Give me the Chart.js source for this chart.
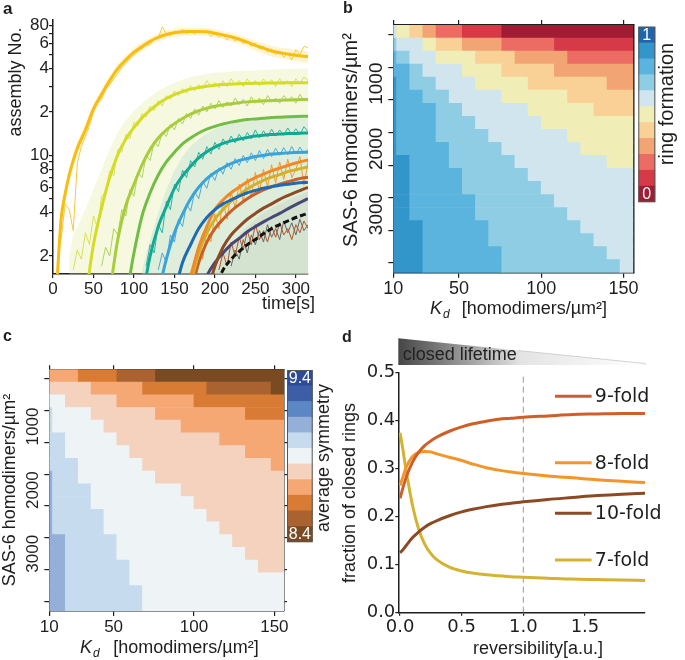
<!DOCTYPE html>
<html>
<head>
<meta charset="utf-8">
<title>SAS-6 ring assembly</title>
<script src="https://cdn.jsdelivr.net/npm/chart.js@4.4.1/dist/chart.umd.min.js"></script>
<style>
  body { margin: 0; background: #fff; }
  #fig { position: relative; width: 685px; height: 660px; overflow: hidden; }
  #fig canvas { position: absolute; }
</style>
</head>
<body>
<div id="fig">
  <canvas id="panelA" width="340" height="320" style="left:0;top:0"></canvas>
  <canvas id="panelB" width="345" height="320" style="left:340px;top:0"></canvas>
  <canvas id="panelC" width="340" height="340" style="left:0;top:320px"></canvas>
  <canvas id="panelD" width="345" height="340" style="left:340px;top:320px"></canvas>
</div>
<script>
const SANS = '"Liberation Sans", Arial, Helvetica, sans-serif';
const WIDE = '"DejaVu Sans", Verdana, sans-serif';
const INK = '#1e1e1e';

Chart.defaults.font.family = SANS;
Chart.defaults.color = INK;
Chart.defaults.animation = false;
Chart.defaults.plugins.legend.display = false;
Chart.defaults.plugins.tooltip.enabled = false;
Chart.defaults.elements.point.radius = 0;

// ---------- panel a : assembly number vs time ----------
const timeTicks = [0, 50, 100, 150, 200, 250, 300];
const countTicks = [2, 3, 4, 5, 6, 7, 8, 9, 10, 20, 30, 40, 50, 60, 70, 80];
const countLabels = ['2', '', '4', '', '6', '', '8', '', '10', '2', '', '4', '', '6', '', '80'];

const fitTimes = [5, 10, 15, 20, 25, 30, 40, 50, 60, 70, 80, 90, 100, 110, 120, 130, 140, 150, 160,
  170, 180, 190, 200, 210, 220, 230, 240, 250, 260, 270, 280, 290, 300, 315];
const fit1 = [1.35, 3.6, 5.4, 7.3, 9.2, 11.2, 15, 21, 26.5, 33, 40, 46, 52, 57, 62, 66, 69, 71, 72, 72.5,
  72.5, 72, 70.5, 68.5, 66.5, 64, 61, 58, 55.5, 53, 51.5, 50.5, 49.5, 48.5];
const fit2 = [1.0, 2.4, 4.3, 7.0, 10.1, 13.0, 15.6, 18.2, 20.6, 22.8, 24.8, 26.4, 27.7, 28.8, 29.6, 30.2,
  30.7, 31.0, 31.2, 31.4, 31.5, 31.6, 31.7, 31.8, 31.8, 31.9, 31.9, 31.9];
const fit3 = [1.1, 2.6, 4.5, 6.3, 8.6, 11.0, 13.2, 15.0, 16.6, 18.0, 19.3, 20.4, 21.2, 21.9, 22.4, 22.8,
  23.2, 23.5, 23.7, 23.9, 24.0, 24.1, 24.2, 24.3, 24.4];
const fit4 = [1.0, 2.1, 3.8, 5.5, 7.3, 9.0, 10.5, 12.0, 13.2, 14.3, 15.2, 15.9, 16.5, 17.0, 17.4, 17.7,
  17.9, 18.1, 18.3, 18.4, 18.5, 18.6, 18.7];
const fit5 = [1.0, 2.0, 3.2, 4.4, 5.9, 7.2, 8.4, 9.6, 10.6, 11.4, 12.1, 12.6, 13.0, 13.3, 13.6, 13.8,
  13.95, 14.05, 14.15, 14.2, 14.3];
const fit6 = [1.1, 1.9, 2.9, 3.9, 5.0, 6.0, 6.9, 7.6, 8.2, 8.75, 9.2, 9.5, 9.8, 10.0, 10.2, 10.3, 10.4,
  10.45, 10.5];
const fit7 = [1.1, 1.8, 2.4, 3.1, 3.7, 4.2, 4.6, 4.9, 5.2, 5.5, 5.7, 5.9, 6.05, 6.2, 6.3, 6.4, 6.5];
const fit8 = [1.0, 1.45, 2.3, 3.2, 4.2, 4.9, 5.5, 6.0, 6.55, 7.0, 7.4, 7.8, 8.15, 8.5, 8.85, 9.3];
const fit9 = [1.0, 1.3, 2.1, 2.9, 3.6, 4.2, 4.8, 5.3, 5.85, 6.3, 6.7, 7.05, 7.35, 7.7, 7.95, 8.3];
const fit10 = [0.8, 1.1, 1.8, 2.5, 3.1, 3.6, 4.1, 4.55, 5.0, 5.4, 5.75, 6.05, 6.3, 6.55, 6.8, 7.06];
const fit11 = [0.9, 1.1, 1.7, 2.3, 2.8, 3.2, 3.6, 3.95, 4.3, 4.6, 4.95, 5.25, 5.55, 6.0];
const fit12 = [1.0, 1.45, 1.8, 2.1, 2.4, 2.65, 2.95, 3.2, 3.45, 3.7, 3.95, 4.25, 4.55, 5.0];
const fit13 = [0.9, 1.2, 1.6, 1.9, 2.15, 2.4, 2.6, 2.85, 3.1, 3.3, 3.5, 3.7, 3.96];
const fits = [fit1, fit2, fit3, fit4, fit5, fit6, fit7, fit8, fit9, fit10, fit11, fit12, fit13];
const fitColors = ['#f8bd12', '#d4dc24', '#a8cd3a', '#72bd45', '#12a994', '#3aa3d9', '#1e6ab4',
  '#f0892a', '#d2b02a', '#c8602a', '#8c4a26', '#4a4775', '#111111'];

const noiseTimes = [5, 10, 15, 20, 25, 30, 35, 40, 45, 50, 55, 60, 65, 70, 75, 80, 85, 90, 95, 100,
  105, 110, 115, 120, 125, 130, 135, 140, 145, 150, 155, 160, 165, 170, 175, 180, 185, 190, 195, 200,
  205, 210, 215, 220, 225, 230, 235, 240, 245, 250, 255, 260, 265, 270, 275, 280, 285, 290, 295, 300,
  305, 310, 315];
const noisy1 = [2.6, 4.6, 4.2, 3.0, 8.8, 11.5, 13.5, 16, 20, 23, 24.5, 29, 31, 34, 37, 41, 44, 47, 50, 53,
  55, 58, 59, 64, 65, 78, 70, 68, 73, 71, 75, 70, 73, 69, 74, 71, 72, 67, 70, 66, 69, 63, 67, 62, 65,
  60, 62, 57, 60, 55, 57, 52, 55, 50, 53, 48, 51, 46, 54, 50, 57, 56];
const noisy2 = [1.6, 2.2, 1.9, 2.9, 2.4, 3.8, 3.1, 5.2, 5.6, 7.8, 7.2, 11, 10.5, 14, 13, 17, 16, 19.5,
  18.5, 22, 20.5, 24, 22, 26, 24.5, 28, 26, 29, 27, 30.5, 28, 31, 29, 33, 30, 32, 29.5, 33, 30, 34, 31,
  33, 30, 34, 31, 33, 30.5, 34, 31, 33.5, 30, 34, 31, 33, 30, 34, 31.5, 35, 33];
const noisy3 = [1.7, 2.3, 2.0, 3.1, 2.8, 4.2, 3.8, 5.8, 5.2, 7.6, 7.0, 10, 9.2, 12.5, 11.5, 14.5, 13.5,
  16.5, 15, 18, 16.5, 19.5, 18, 21, 19, 22, 20, 23, 21, 24, 21.5, 23.5, 22, 25, 22.5, 24.5, 22, 25.5, 23,
  25, 22.5, 26, 23.5, 25, 23, 26, 24, 25.5, 23, 26.5, 24, 25];
const noisy5 = [1.7, 2.4, 2.1, 3.3, 2.9, 4.8, 4.2, 6.3, 5.6, 7.9, 7.0, 9.2, 8.3, 10.5, 9.4, 11.5, 10.2,
  12.3, 11, 13, 11.8, 13.6, 12.2, 14, 12.6, 14.4, 13, 15, 13.2, 14.8, 13.4, 15.2, 13.6, 15, 13.8, 15.5,
  13.9, 15.3, 14, 15.8, 14.6];
const noisy6 = [1.6, 2.1, 1.8, 2.8, 2.5, 3.6, 3.2, 4.6, 4.1, 5.6, 5.0, 6.6, 5.9, 7.5, 6.7, 8.2, 7.4, 8.9,
  8.0, 9.5, 8.5, 10, 8.9, 10.4, 9.2, 10.8, 9.5, 11, 9.8, 11.2, 10, 11.3, 10.1, 11.5, 10.2, 11.4, 10.3, 11];
const noisyOrange = [1.6, 2.4, 1.9, 3.0, 2.5, 3.9, 3.1, 4.8, 3.6, 5.6, 4.3, 6.3, 4.8, 6.9, 5.2, 7.6, 5.6,
  8.0, 6.0, 8.6, 6.4, 9.0, 6.8, 9.4, 7.0, 8.0, 9.8, 6.2, 9.0];
const noisyRust = [1.6, 2.1, 1.7, 2.5, 2.0, 2.7, 2.2, 3.0, 2.4, 3.3, 2.6, 3.0, 2.5, 3.2, 2.7, 3.4, 2.8,
  3.1, 2.6, 3.3, 2.9, 3.5, 3.1];
const noisyGrey = [1.7, 2.2, 1.9, 2.6, 2.1, 2.8, 2.4, 3.0, 2.5, 3.3, 2.7, 3.1, 2.6, 3.5, 2.9, 3.4, 2.8,
  3.6, 3.0, 3.3];
const noisy = [noisy1, noisy2, noisy3, noisy5, noisy6, noisyOrange, noisyRust, noisyGrey];
const noisyColors = ['#f9c840', '#d9e05a', '#aed35a', '#2fb3a3', '#4ba8dc', '#f59a2c', '#b5532a', '#666666'];

const bandYellowHi = [1.5, 4.0, 6.0, 8.1, 10.2, 12.4, 16.5, 22.8, 28.7, 35.8, 43, 49.5, 55.5, 61, 66, 70.5,
  73.5, 75.5, 76.5, 77, 77, 76.5, 75, 73, 71, 68.5, 65.5, 62.5, 60, 57.5, 56, 55, 54, 53];
const bandYellowLo = [1.25, 3.2, 4.8, 6.5, 8.2, 10, 13.6, 19.2, 24.3, 30.2, 37, 42.5, 48.5, 53, 58, 61.5,
  64.5, 66.5, 67.5, 68, 68, 67.5, 66, 64, 62, 59.5, 56.5, 53.5, 51, 48.5, 47, 46, 45, 44];
const bandGreen = [2.0, 2.8, 3.2, 4.2, 5.8, 8.0, 11, 14.5, 17.5, 20.5, 23, 25.5, 28, 30, 32, 33.5, 35, 36,
  36.8, 37.4, 37.8, 38.2, 38.5, 38.7, 39, 39.2, 39.4, 39.6, 39.8, 40, 40];
const bandBlue = [1.6, 2.6, 4.0, 5.8, 7.8, 9.8, 11.5, 13, 14.2, 15.2, 16, 16.6, 17, 17.3, 17.6, 17.8, 18,
  18.1, 18.2, 18.3, 18.4];
const bandGrey = [1.6, 2.0, 2.4, 2.8, 3.2, 3.6, 4.0, 4.3, 4.6, 4.9, 5.2, 5.6];

// ---------- panels b, c : heat maps ----------
const kdEdges = [4, 12, 20, 28, 36, 44, 52, 60, 68, 76, 84, 92, 100, 108, 116, 124, 132, 140, 148, 156];
const densityRows = [200, 400, 600, 800, 1000, 1200, 1400, 1600, 1800, 2000, 2200, 2400, 2600, 2800,
  3000, 3200, 3400, 3600, 3800];
const kdTicks = [10, 50, 100, 150];
const densityTicks = [500, 1000, 1500, 2000, 2500, 3000, 3500];
const densityLabels = [1000, 2000, 3000];

// ring formation, level 0 (red) .. 10 (blue)
const ringGrid = [
  '6543221110000000000',
  '7665443332222111111',
  '8766555444333322222',
  '8876665554444333333',
  '9877666555544444433',
  '9887766665555544444',
  '9888776666655555444',
  '9888777666665555555',
  '9888777766666655555',
  '9888877776666665555',
  '9988877777666666655',
  '9988887777766666666',
  '9988887777776666666',
  '9988888777777666666',
  '9988888777777766666',
  '9998888877777776666',
  '9998888877777777666',
  '9998888887777777766',
  '9998888887777777776'
];
const ringColors = ['#a01b34', '#d63a47', '#ec6b63', '#f3a475', '#f9d196', '#f0edb7', '#d1e5ee',
  '#8fcde5', '#5bb4dd', '#3296cb', '#1f64ad'];

// average symmetry, level 0 (8.4) .. 10 (9.4)
const symGrid = [
  '3332221110000000000',
  '4444333322222111110',
  '5544443333332222222',
  '6555444443333333222',
  '6555544444433333333',
  '6655554444444433333',
  '6655555444444444333',
  '6665555544444444443',
  '7665555554444444444',
  '7666555555544444444',
  '7666555555554444444',
  '7666655555555444444',
  '7666655555555544444',
  '7766665555555554444',
  '7766665555555555444',
  '7766666555555555544',
  '7766666555555555555',
  '7766666655555555555',
  '7766666655555555555'
];
const symColors = ['#7a4b22', '#aa6230', '#d87b35', '#f5a874', '#f4d2bd', '#eef3f6', '#c6dcee',
  '#94b0d8', '#5b88c4', '#3d5da7', '#2e4a9a'];

// ---------- panel d : closed ring fractions ----------
const reversibility = [0, 0.02, 0.05, 0.1, 0.15, 0.2, 0.25, 0.3, 0.4, 0.5, 0.6, 0.7, 0.8, 0.9, 1.0,
  1.2, 1.4, 1.6, 1.8, 1.99];
const fold9 = [0.238, 0.257, 0.282, 0.313, 0.334, 0.348, 0.358, 0.366, 0.378, 0.387, 0.394, 0.399,
  0.403, 0.405, 0.407, 0.41, 0.413, 0.414, 0.415, 0.415];
const fold8 = [0.265, 0.28, 0.303, 0.325, 0.334, 0.336, 0.335, 0.331, 0.324, 0.317, 0.309, 0.302,
  0.297, 0.293, 0.29, 0.285, 0.281, 0.277, 0.274, 0.271];
const fold10 = [0.125, 0.13, 0.14, 0.156, 0.168, 0.178, 0.186, 0.192, 0.202, 0.21, 0.216, 0.221,
  0.225, 0.228, 0.231, 0.236, 0.24, 0.244, 0.247, 0.249];
const fold7 = [0.375, 0.345, 0.295, 0.225, 0.175, 0.143, 0.123, 0.11, 0.095, 0.087, 0.082, 0.079,
  0.077, 0.075, 0.074, 0.072, 0.07, 0.069, 0.068, 0.067];
const foldNames = ['9-fold', '8-fold', '10-fold', '7-fold'];
const foldSeries = [fold9, fold8, fold10, fold7];
const foldColors = ['#cf5e29', '#f2962b', '#8b4a24', '#d4b330'];
const foldLabelY = [0.451, 0.3125, 0.207, 0.11];
const foldKeyX = [1.257, 1.554, 1.58];
const guideX = 1.0;

// ---------- helpers ----------
const pts = (times, vals) => vals.map((v, i) => ({ x: times[times.length - vals.length + i], y: v }));

function text(ctx, str, x, y, font, opt = {}) {
  ctx.save();
  ctx.font = font;
  ctx.fillStyle = opt.color || INK;
  ctx.textAlign = opt.align || 'left';
  ctx.textBaseline = opt.baseline || 'alphabetic';
  ctx.translate(x, y);
  if (opt.rot) ctx.rotate(opt.rot);
  ctx.fillText(str, 0, 0);
  ctx.restore();
}

function kdTitle(ctx, x, y, size, gap) {
  ctx.save();
  ctx.fillStyle = INK;
  ctx.font = `italic ${size}px ${SANS}`;
  ctx.fillText('K', x, y);
  const kw = ctx.measureText('K').width;
  ctx.font = `italic ${Math.round(size * 0.68)}px ${SANS}`;
  ctx.fillText('d', x + kw + 1, y + size * 0.24);
  ctx.font = `${size}px ${SANS}`;
  ctx.fillText('[homodimers/µm²]', x + gap, y);
  ctx.restore();
}

function colorbar(ctx, x, y, w, h, colors, top, bottom, size) {
  const n = colors.length, sh = h / n;
  for (let i = 0; i < n; i++) {
    ctx.fillStyle = colors[n - 1 - i];
    ctx.fillRect(x, y + i * sh, w, sh + 0.6);
  }
  ctx.strokeStyle = '#555';
  ctx.lineWidth = 1;
  ctx.strokeRect(x + 0.5, y + 0.5, w - 1, h - 1);
  text(ctx, top, x + w / 2, y + sh / 2 + 1, `${size}px ${SANS}`, { color: '#fff', align: 'center', baseline: 'middle' });
  text(ctx, bottom, x + w / 2, y + h - sh / 2 + 1, `${size}px ${SANS}`, { color: '#fff', align: 'center', baseline: 'middle' });
}

const fixedTicks = list => s => { s.ticks = list.map(v => ({ value: v })); };
const axisGrid = len => ({ drawOnChartArea: false, tickLength: len, color: INK, lineWidth: 1.2 });
const axisBorder = { color: INK, width: 1.5 };

// ---------- panel a ----------
const aSets = [];
fits.forEach((f, i) => aSets.push({
  data: pts(fitTimes, f), borderColor: fitColors[i], borderWidth: 3, cubicInterpolationMode: 'monotone',
  borderDash: i === fits.length - 1 ? [6, 3] : [], fill: false
}));
noisy.forEach((n, i) => aSets.push({
  data: pts(noiseTimes, n), borderColor: noisyColors[i], borderWidth: 1, tension: 0, fill: false
}));
aSets.push({ data: pts(fitTimes, bandYellowHi), borderWidth: 0, fill: '+1', backgroundColor: 'rgba(252,225,130,0.38)' });
aSets.push({ data: pts(fitTimes, bandYellowLo), borderWidth: 0, fill: false });
aSets.push({ data: pts(fitTimes, bandGreen), borderWidth: 0, fill: 'start', backgroundColor: 'rgba(226,236,160,0.32)' });
aSets.push({ data: pts(fitTimes, bandBlue), borderWidth: 0, fill: 'start', backgroundColor: 'rgba(170,214,234,0.42)' });
aSets.push({ data: pts(fitTimes, bandGrey), borderWidth: 0, fill: 'start', backgroundColor: 'rgba(205,205,205,0.5)' });

new Chart(document.getElementById('panelA'), {
  type: 'line',
  data: { datasets: aSets },
  options: {
    responsive: false, devicePixelRatio: 1,
    layout: { padding: { top: 20, right: 32, left: 0, bottom: 0 } },
    scales: {
      x: {
        type: 'linear', min: 0, max: 315, offset: false,
        afterBuildTicks: fixedTicks(timeTicks), afterFit: s => { s.height = 46; },
        grid: axisGrid(4), border: axisBorder,
        ticks: { font: { size: 17 }, padding: 1, maxRotation: 0, autoSkip: false }
      },
      y: {
        type: 'logarithmic', min: 1.5, max: 87,
        afterBuildTicks: fixedTicks(countTicks), afterFit: s => { s.width = 53; },
        grid: axisGrid(4), border: axisBorder,
        ticks: { font: { size: 17 }, padding: 0, autoSkip: false, callback: (v, i) => countLabels[i] }
      }
    }
  },
  plugins: [{
    id: 'panelAText',
    afterDraw(chart) {
      const ctx = chart.ctx;
      text(ctx, 'a', 3, 13.5, `bold 17px ${SANS}`);
      text(ctx, 'assembly No.', 16, 82, `18px ${SANS}`, { align: 'center', baseline: 'middle', rot: -Math.PI / 2 });
      text(ctx, 'time[s]', 315, 309, `18px ${SANS}`, { align: 'right' });
    }
  }]
});

// ---------- panels b, c ----------
function heatBars(grid) {
  const bars = [];
  grid.forEach((row, r) => {
    let s = 0;
    for (let c = 1; c <= row.length; c++) {
      if (c === row.length || row[c] !== row[s]) {
        bars.push({ y: densityRows[r], x: [kdEdges[s], kdEdges[c]], level: parseInt(row[s], 16) });
        s = c;
      }
    }
  });
  return bars;
}

function heatChart(id, grid, colors, L, decorate) {
  const xAxis = pos => ({
    type: 'linear', position: pos, min: 10, max: 156, offset: false,
    afterBuildTicks: fixedTicks(kdTicks),
    afterFit: s => { s.height = pos === 'bottom' ? L.xh : 0; },
    grid: axisGrid(pos === 'bottom' ? 5 : L.topTick), border: axisBorder,
    ticks: pos === 'bottom'
      ? { font: { size: L.tick }, padding: 1, maxRotation: 0, autoSkip: false }
      : { display: false }
  });
  const yAxis = pos => ({
    type: 'linear', position: pos, reverse: true, min: 100, max: 3900, offset: false,
    afterBuildTicks: fixedTicks(densityTicks),
    afterFit: s => { s.width = pos === 'left' ? L.yw : 0; },
    grid: Object.assign(axisGrid(pos === 'left' ? 5 : L.rightTick), { display: pos === 'left' || L.rightTick > 0 }),
    border: axisBorder,
    ticks: { display: false }
  });
  return new Chart(document.getElementById(id), {
    type: 'bar',
    data: {
      datasets: [{
        data: heatBars(grid),
        backgroundColor: c => colors[c.raw ? c.raw.level : 0],
        borderWidth: 0, barPercentage: 1, categoryPercentage: 1
      }]
    },
    options: {
      indexAxis: 'y', responsive: false, devicePixelRatio: 1,
      layout: { padding: { top: L.top, right: L.right, left: 0, bottom: 0 } },
      scales: { x: xAxis('bottom'), x2: xAxis('top'), y: yAxis('left'), y2: yAxis('right') }
    },
    plugins: [{
      id: id + 'Text',
      afterDraw(chart) {
        const ctx = chart.ctx, ys = chart.scales.y;
        densityLabels.forEach(v => text(ctx, String(v), L.labelX, ys.getPixelForValue(v), `${L.ytick}px ${SANS}`,
          { align: 'center', baseline: 'middle', rot: -Math.PI / 2 }));
        decorate(ctx, chart);
      }
    }]
  });
}

heatChart('panelB', ringGrid, ringColors,
  { top: 25, right: 51.7, xh: 47.3, yw: 53.3, tick: 18, ytick: 19, labelX: 36.7, topTick: 5, rightTick: 0 },
  (ctx) => {
    text(ctx, 'b', 3, 13, `bold 16px ${SANS}`);
    text(ctx, 'SAS-6 homodimers/µm²', 11.5, 140, `20px ${SANS}`, { align: 'center', baseline: 'middle', rot: -Math.PI / 2 });
    kdTitle(ctx, 90, 313.5, 18, 31.7);
    colorbar(ctx, 298.3, 26.7, 17, 175, ringColors, '1', '0', 16);
    text(ctx, 'ring formation', 327, 104, `20px ${SANS}`, { align: 'center', baseline: 'middle', rot: -Math.PI / 2 });
  });

heatChart('panelC', symGrid, symColors,
  { top: 49.3, right: 56, xh: 49, yw: 49.3, tick: 17, ytick: 17, labelX: 33.3, topTick: 4, rightTick: 3 },
  (ctx) => {
    text(ctx, 'c', 3, 21, `bold 16px ${SANS}`);
    text(ctx, 'SAS-6 homodimers/µm²', 10, 170, `18px ${SANS}`, { align: 'center', baseline: 'middle', rot: -Math.PI / 2 });
    kdTitle(ctx, 80, 333, 18, 33.3);
    colorbar(ctx, 287, 50, 25.7, 171.7, symColors, '9.4', '8.4', 16);
    text(ctx, 'average symmetry', 324, 138, `18px ${SANS}`, { align: 'center', baseline: 'middle', rot: -Math.PI / 2 });
  });

// ---------- panel d ----------
const dSets = foldSeries.map((s, i) => ({
  data: pts(reversibility, s), borderColor: foldColors[i], borderWidth: 3,
  cubicInterpolationMode: 'monotone', fill: false
}));
dSets.push({
  data: [{ x: guideX, y: 0 }, { x: guideX, y: 0.5 }], borderColor: '#9a9a9a', borderWidth: 1,
  borderDash: [6, 4], fill: false
});

new Chart(document.getElementById('panelD'), {
  type: 'line',
  data: { datasets: dSets },
  options: {
    responsive: false, devicePixelRatio: 1,
    layout: { padding: { top: 52.7, right: 40, left: 0, bottom: 0 } },
    scales: {
      x: {
        type: 'linear', min: -0.014, max: 1.987, offset: false,
        afterBuildTicks: fixedTicks([0, 0.5, 1, 1.5]), afterFit: s => { s.height = 47.3; },
        grid: axisGrid(3), border: axisBorder,
        ticks: { font: { family: WIDE, size: 18 }, padding: 1, maxRotation: 0, autoSkip: false, callback: v => v.toFixed(1) }
      },
      y: {
        type: 'linear', min: 0, max: 0.5,
        afterBuildTicks: fixedTicks([0, 0.1, 0.2, 0.3, 0.4, 0.5]), afterFit: s => { s.width = 58.3; },
        grid: axisGrid(3), border: axisBorder,
        ticks: { font: { family: WIDE, size: 18 }, padding: 0, autoSkip: false, callback: v => v.toFixed(1) }
      }
    }
  },
  plugins: [{
    id: 'panelDText',
    afterDatasetsDraw(chart) {
      const ctx = chart.ctx, xs = chart.scales.x, ys = chart.scales.y;
      foldNames.forEach((name, i) => {
        const y = ys.getPixelForValue(foldLabelY[i]);
        ctx.save();
        ctx.strokeStyle = foldColors[i];
        ctx.lineWidth = 3;
        ctx.beginPath();
        ctx.moveTo(xs.getPixelForValue(foldKeyX[0]), y);
        ctx.lineTo(xs.getPixelForValue(foldKeyX[1]), y);
        ctx.stroke();
        ctx.restore();
        text(ctx, name, xs.getPixelForValue(foldKeyX[2]), y + 1, `19px ${WIDE}`, { baseline: 'middle' });
      });
    },
    afterDraw(chart) {
      const ctx = chart.ctx, a = chart.chartArea;
      text(ctx, 'd', 2, 22, `bold 16px ${SANS}`);
      // closed lifetime wedge
      const g = ctx.createLinearGradient(a.left, 0, a.right, 0);
      g.addColorStop(0, '#464646');
      g.addColorStop(0.5, '#e4e4e4');
      g.addColorStop(1, '#ffffff');
      ctx.save();
      ctx.beginPath();
      ctx.moveTo(a.left, 18.3);
      ctx.lineTo(a.right, 43.5);
      ctx.lineTo(a.right, 45);
      ctx.lineTo(a.left, 45);
      ctx.closePath();
      ctx.fillStyle = g;
      ctx.fill();
      ctx.strokeStyle = '#c8c8c8';
      ctx.lineWidth = 0.8;
      ctx.beginPath();
      ctx.moveTo(a.left + 120, 18.3 + 25.2 * 120 / (a.right - a.left));
      ctx.lineTo(a.right, 43.5);
      ctx.lineTo(a.right, 45);
      ctx.stroke();
      ctx.restore();
      text(ctx, 'closed lifetime', 62.7, 35, `18px ${SANS}`, { baseline: 'middle', color: '#222' });
      text(ctx, 'fraction of closed rings', 10, 173, `18px ${SANS}`, { align: 'center', baseline: 'middle', rot: -Math.PI / 2 });
      text(ctx, 'reversibility[a.u.]', 198, 334, `18px ${SANS}`, { align: 'center' });
    }
  }]
});
</script>
</body>
</html>
